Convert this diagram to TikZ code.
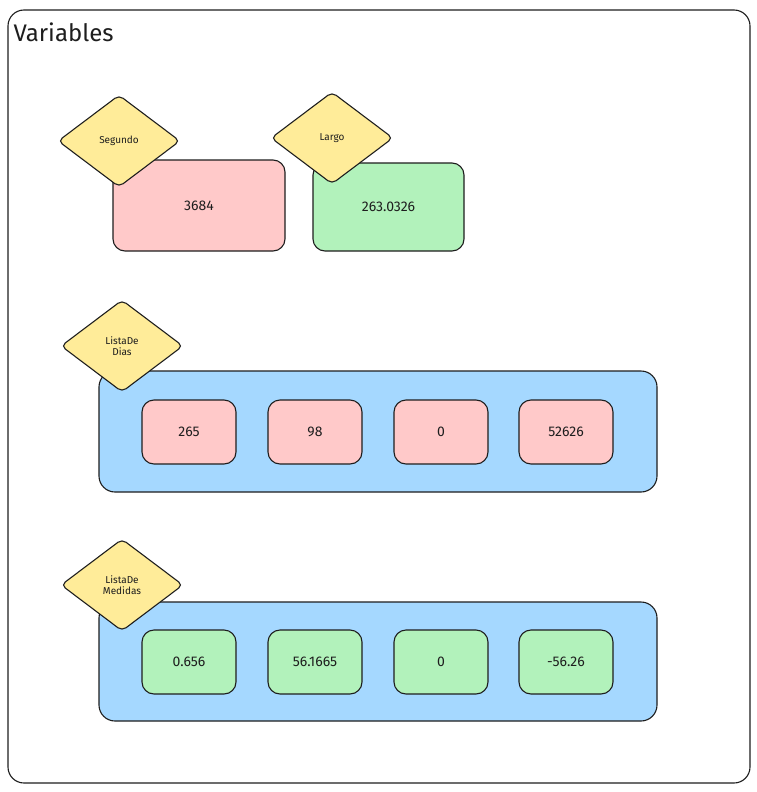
\documentclass[tikz,border=0pt]{standalone}
\usepackage{fontspec}
\setmainfont{Fira Sans}
\usetikzlibrary{shapes.geometric}
\definecolor{cred}{HTML}{FFC9C9}
\definecolor{cgreen}{HTML}{B2F2BB}
\definecolor{cblue}{HTML}{A5D8FF}
\definecolor{cyel}{HTML}{FFEC99}
\definecolor{ink}{HTML}{1E1E1E}
\begin{document}
\begin{tikzpicture}[x=1pt,y=-1pt,
  box/.style={draw=ink,line width=1.1pt,rounded corners=12pt},
  dia/.style={diamond,draw=ink,line width=1.1pt,fill=cyel,rounded corners=5pt,minimum width=122pt,minimum height=92pt,inner sep=0pt,align=center,font=\fontsize{10}{11}\selectfont,text=ink},
  val/.style={font=\fontsize{14}{16}\selectfont,text=ink}]
\useasboundingbox (0,0) rectangle (756,792);
\draw[box,fill=white,rounded corners=16pt] (8,10) rectangle (750,783);
\node[anchor=west,font=\fontsize{24}{26}\selectfont,text=ink] (title) at (10,32) {Variables};
% scalars
\draw[box,fill=cred] (113,160) rectangle node[val] (segv) {3684} (285,251);
\draw[box,fill=cgreen] (313,163) rectangle node[val] (largv) {263.0326} (464,251);
% lists
\draw[box,fill=cblue,rounded corners=16pt] (99,371) rectangle (657,492);
\foreach \x/\t/\n in {142/265/a,268/98/b,394/0/c,519/52626/d}
  \draw[box,fill=cred] (\x,400) rectangle node[val] (dias\n) {\t} (\x+94,464);
\draw[box,fill=cblue,rounded corners=16pt] (99,602) rectangle (657,721);
\foreach \x/\t/\n in {142/0.656/a,268/56.1665/b,394/0/c,519/-56.26/d}
  \draw[box,fill=cgreen] (\x,630) rectangle node[val] (med\n) {\t} (\x+94,694);
% labels
\node[dia] (seg) at (119,141) {Segundo};
\node[dia] (larg) at (332,138) {Largo};
\node[dia] (ldias) at (122,346) {ListaDe\\Dias};
\node[dia] (lmed) at (122,585) {ListaDe\\Medidas};
\end{tikzpicture}
\end{document}
